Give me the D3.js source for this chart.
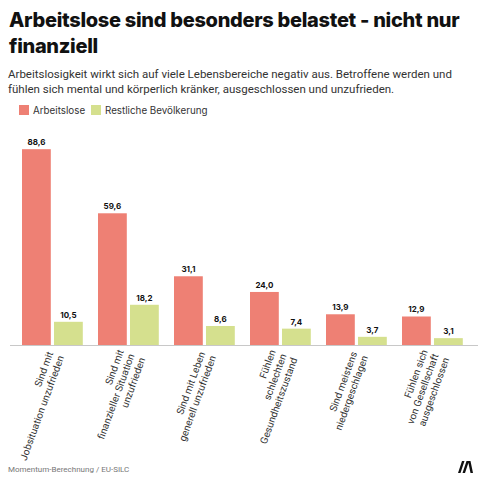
<!DOCTYPE html>
<html><head><meta charset="utf-8">
<script src="https://cdn.jsdelivr.net/npm/d3@7"></script>
<style>
html,body{margin:0;padding:0;background:#fff;}
svg{display:block;}
</style></head>
<body>
<svg id="c" width="480" height="480"></svg>
<script>
const categories = [
  ["Sind mit", "Jobsituation unzufrieden"],
  ["Sind mit", "finanzieller Situation", "unzufrieden"],
  ["Sind mit Leben", "generell unzufrieden"],
  ["Fühlen", "schlechten", "Gesundheitszustand"],
  ["Sind meistens", "niedergeschlagen"],
  ["Fühlen sich", "von Gesellschaft", "ausgeschlossen"]
];
const seriesNames = ["Arbeitslose", "Restliche Bevölkerung"];
const arbeitslose = [88.6, 59.6, 31.1, 24.0, 13.9, 12.9];
const restliche = [10.5, 18.2, 8.6, 7.4, 3.7, 3.1];
const colors = ["#ee8074", "#d5e08e"];

const titleFont = "Inter, 'DejaVu Sans', sans-serif";
const bodyFont = "Roboto, 'Noto Sans', sans-serif";
const svg = d3.select("#c");

svg.append("text").attr("x", 9).attr("y", 27)
  .attr("font-family", titleFont).attr("font-weight", 800).attr("font-size", 20)
  .attr("letter-spacing", -0.3).attr("fill", "#111")
  .text("Arbeitslose sind besonders belastet - nicht nur");
svg.append("text").attr("x", 9).attr("y", 53)
  .attr("font-family", titleFont).attr("font-weight", 800).attr("font-size", 20)
  .attr("letter-spacing", -0.3).attr("fill", "#111")
  .text("finanziell");

const sub = ["Arbeitslosigkeit wirkt sich auf viele Lebensbereiche negativ aus. Betroffene werden und",
  "fühlen sich mental und körperlich kränker, ausgeschlossen und unzufrieden."];
sub.forEach((s, i) => svg.append("text").attr("x", 8).attr("y", 78 + i * 14.5)
  .attr("font-family", bodyFont).attr("font-size", 11.5).attr("fill", "#333").text(s));

// legend
const leg = svg.append("g").attr("font-family", titleFont).attr("font-size", 9.8).attr("fill", "#333");
const legX = [19, 91];
seriesNames.forEach((n, i) => {
  leg.append("rect").attr("x", legX[i]).attr("y", 105).attr("width", 10).attr("height", 10).attr("fill", colors[i]);
  leg.append("text").attr("x", legX[i] + 14).attr("y", 113.5).text(n);
});

const baseY = 345;
const y = d3.scaleLinear().domain([0, 100]).range([baseY, baseY - 221]);
const x0 = d3.scaleBand().domain(d3.range(categories.length)).range([14.4, 470.4]).paddingInner(0.2).paddingOuter(0.1);
const x1 = d3.scaleBand().domain([0, 1]).range([0, x0.bandwidth()]).paddingInner(0.1);

const data = categories.map((c, i) => ({ i, vals: [arbeitslose[i], restliche[i]] }));
const fmt = v => d3.format(".1f")(v).replace(".", ",");

const g = svg.append("g");
data.forEach(d => {
  d.vals.forEach((v, k) => {
    const bx = x0(d.i) + x1(k);
    g.append("rect").attr("x", bx).attr("y", y(v)).attr("width", x1.bandwidth())
      .attr("height", baseY - y(v)).attr("fill", colors[k]);
    g.append("text").attr("x", bx + x1.bandwidth() / 2).attr("y", y(v) - 4)
      .attr("text-anchor", "middle").attr("font-family", titleFont).attr("font-weight", 700)
      .attr("font-size", 8).attr("fill", "#111").text(fmt(v));
  });
});

// axis baseline
const axis = d3.axisBottom(x0).tickSize(0).tickFormat("");
const ax = svg.append("g").attr("transform", `translate(0,${baseY})`).call(axis);
ax.select(".domain").attr("stroke", "#c8c8c8").attr("d", "M10,0.5H478");

// category labels
const lab = svg.append("g").attr("font-family", bodyFont).attr("font-size", 10).attr("fill", "#333");
categories.forEach((lines, i) => {
  const cx = x0(i) + x0.bandwidth() / 2 + 3;
  const t = lab.append("text").attr("text-anchor", "end")
    .attr("transform", `translate(${cx},${baseY + 9}) rotate(-70)`);
  const n = lines.length;
  lines.forEach((l, j) => {
    t.append("tspan").attr("x", 0).attr("y", (j - (n - 1) / 2) * 11.5 + 3.5).text(l);
  });
});

svg.append("text").attr("x", 8).attr("y", 472).attr("font-family", bodyFont)
  .attr("font-size", 8).attr("fill", "#777").text("Momentum-Berechnung / EU-SILC");

// logo
svg.append("path").attr("d", "M458,473 L462,461 L464.5,461 L460.5,473 Z M462.5,473 L466.5,461 L469,461 L465,473 Z M468,461 L470.5,461 L473,473 L470.5,473 Z")
  .attr("fill", "#111");
</script>
</body></html>
